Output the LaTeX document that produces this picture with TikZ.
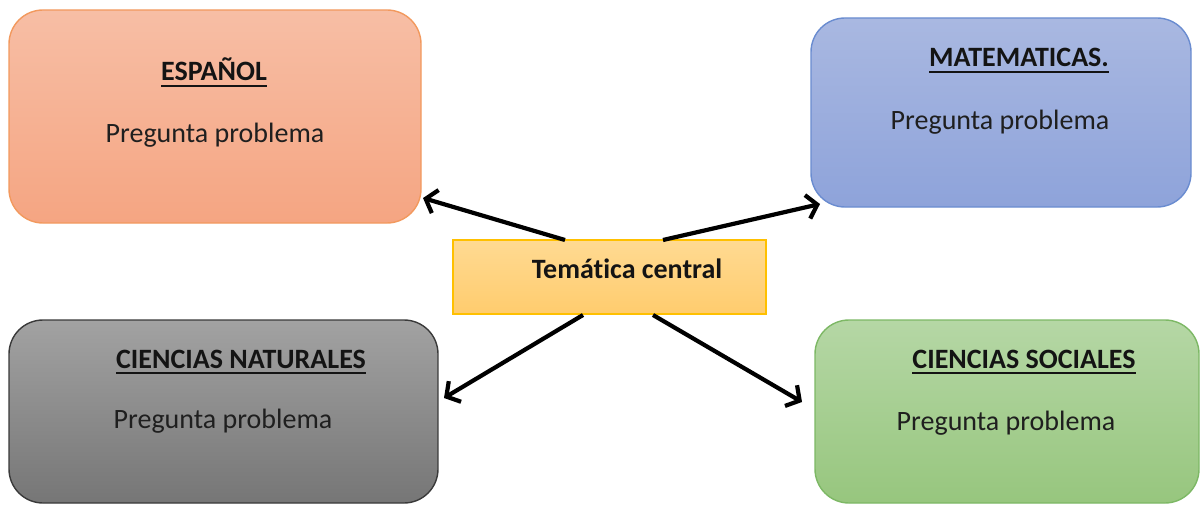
\documentclass[tikz,border=0pt]{standalone}
\usepackage{fontspec}
\setmainfont{Carlito}[Ligatures=NoCommon]
\usetikzlibrary{arrows.meta}
\definecolor{espA}{HTML}{F7BEA5}
\definecolor{espB}{HTML}{F5A582}
\definecolor{espD}{HTML}{F2995E}
\definecolor{matA}{HTML}{A9B8E1}
\definecolor{matB}{HTML}{8EA3DA}
\definecolor{matD}{HTML}{6A8CD0}
\definecolor{natA}{HTML}{A2A2A2}
\definecolor{natB}{HTML}{767676}
\definecolor{natD}{HTML}{3A3A3A}
\definecolor{socA}{HTML}{B5D7A5}
\definecolor{socB}{HTML}{97C67E}
\definecolor{socD}{HTML}{7DB865}
\definecolor{cenA}{HTML}{FFDA92}
\definecolor{cenB}{HTML}{FFCC6E}
\definecolor{cenD}{HTML}{FFC000}
\newcommand\myul[1]{\leavevmode\vtop{\hbox{#1}\kern3.5pt\hrule height 2.6pt}}
\tikzset{
  subj/.style={rectangle, rounded corners=34pt, line width=1.4pt, inner sep=0pt},
  ttl/.style={font=\fontsize{28}{32}\selectfont\bfseries, inner sep=0pt, anchor=base, text=black!92},
  body/.style={font=\fontsize{28}{32}\selectfont, inner sep=0pt, anchor=base, text=black!88},
  conn/.style={line width=4.2pt, -{Straight Barb[length=10pt,width=24pt,line width=4.2pt]}}
}
\begin{document}
\begin{tikzpicture}[x=1pt,y=-1pt]
\useasboundingbox (0,0) rectangle (1201,505);
\node[subj, draw=espD, top color=espA, bottom color=espB, minimum width=412pt, minimum height=213pt] (esp) at (215,116.5) {};
\node[subj, draw=matD, top color=matA, bottom color=matB, minimum width=380pt, minimum height=189pt] (mat) at (1001,112.5) {};
\node[subj, draw=natD, top color=natA, bottom color=natB, minimum width=429pt, minimum height=183pt] (nat) at (223.5,411.5) {};
\node[subj, draw=socD, top color=socA, bottom color=socB, minimum width=384pt, minimum height=183pt] (soc) at (1007,411.5) {};
\node[rectangle, draw=cenD, line width=1.2pt, top color=cenA, bottom color=cenB, minimum width=313pt, minimum height=74pt, inner sep=0pt] (cen) at (609.5,277) {};

\node[ttl] (t1) at (214,81) {\myul{ESPAÑOL}};
\node[body] (b1) at (215,143) {Pregunta problema};
\node[ttl] (t2) at (1019,67) {\myul{MATEMATICAS.}};
\node[body] (b2) at (1000,130) {Pregunta problema};
\node[ttl] (t3) at (241,368) {\myul{CIENCIAS NATURALES}};
\node[body] (b3) at (223,428) {Pregunta problema};
\node[ttl] (t4) at (1024,368) {\myul{CIENCIAS SOCIALES}};
\node[body] (b4) at (1006,430) {Pregunta problema};
\node[ttl] (tc) at (627,278) {Temática central};

\coordinate (s1) at (565,240);
\coordinate (s2) at (663,240);
\coordinate (s3) at (583,315);
\coordinate (s4) at (653,315);
\coordinate (e1) at (423,198);
\coordinate (e2) at (820,204);
\coordinate (e3) at (444,398);
\coordinate (e4) at (802,402);
\draw[conn] (s1) -- (e1);
\draw[conn] (s2) -- (e2);
\draw[conn] (s3) -- (e3);
\draw[conn] (s4) -- (e4);
\end{tikzpicture}
\end{document}
